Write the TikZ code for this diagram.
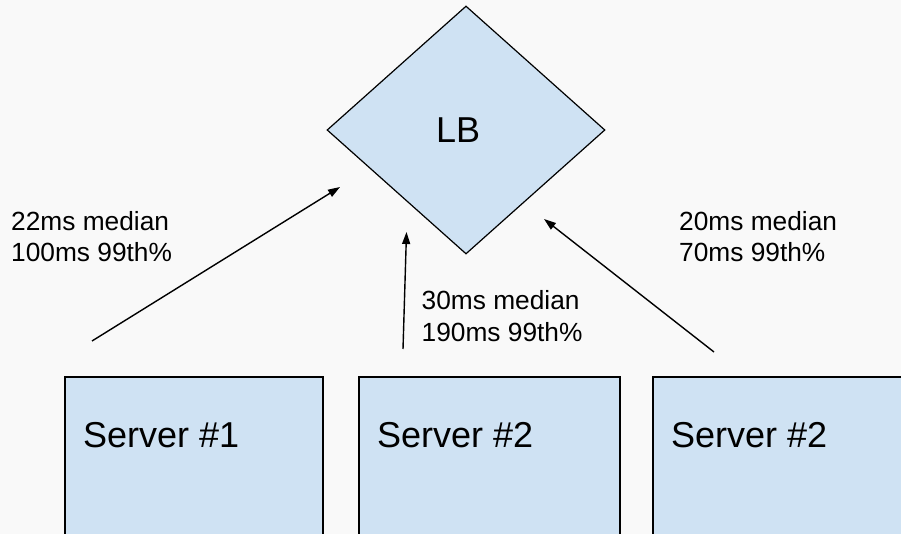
\documentclass[tikz,border=0pt]{standalone}
\usepackage{fontspec}
\setmainfont{Liberation Sans}
\usetikzlibrary{shapes.geometric,arrows.meta}
\definecolor{bgcol}{HTML}{F9F9F9}
\definecolor{boxfill}{HTML}{CFE2F3}
\begin{document}
\begin{tikzpicture}[x=1pt,y=-1pt,
  serverbox/.style={draw=black,line width=1.6pt,fill=boxfill,rectangle,
    anchor=north west,minimum width=#1,minimum height=200pt,inner sep=0pt},
  lbshape/.style={draw=black,line width=1.2pt,fill=boxfill,diamond,
    minimum width=278pt,minimum height=248pt,inner sep=0pt},
  bigtext/.style={font=\fontsize{36}{43}\selectfont,inner sep=0pt,anchor=base west},
  stat/.style={font=\fontsize{26.3}{32}\selectfont,inner sep=0pt,anchor=base west,align=left},
  link/.style={line width=1.4pt,-{Triangle[length=12pt,width=8pt]}}]
  \useasboundingbox (0,0) rectangle (901,534);
  \fill[bgcol] (0,0) rectangle (901,534);
  \clip (0,0) rectangle (901,534);

  % load balancer
  \node[lbshape] (lb) at (466,130) {};
  \node[bigtext] (lbtext) at (436,143) {LB};

  % servers (boxes run past the lower and right edges)
  \node[serverbox=258pt] (s1) at (64,376) {};
  \node[serverbox=261pt] (s2) at (358,376) {};
  \node[serverbox=280pt] (s3) at (652,376) {};
  \node[bigtext] (s1text) at (83,447) {Server \#1};
  \node[bigtext] (s2text) at (377,447) {Server \#2};
  \node[bigtext] (s3text) at (671,447) {Server \#2};

  % connector ends
  \coordinate (a1) at (92,341);
  \coordinate (b1) at (340,187);
  \coordinate (a2) at (403,349);
  \coordinate (b2) at (406.5,232);
  \coordinate (a3) at (714,352);
  \coordinate (b3) at (544,219);
  \draw[link] (a1) -- (b1);
  \draw[link] (a2) -- (b2);
  \draw[link] (a3) -- (b3);

  % latency figures (anchored on the baseline of the second line)
  \node[stat] (l1) at (11,262) {22ms median\\100ms 99th\%};
  \node[stat] (l2) at (421.5,341) {30ms median\\190ms 99th\%};
  \node[stat] (l3) at (679,262) {20ms median\\70ms 99th\%};
\end{tikzpicture}
\end{document}
